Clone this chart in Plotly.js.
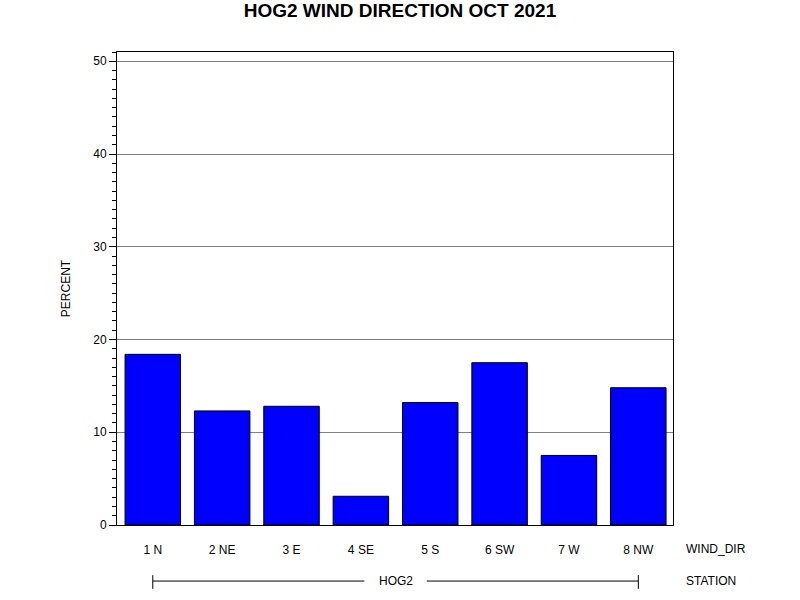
<!DOCTYPE html>
<html>
<head>
<meta charset="utf-8">
<script src="https://cdn.plot.ly/plotly-3.0.1.min.js"></script>
<style>html,body{margin:0;padding:0;background:#fff}#chart{width:800px;height:600px}</style>
</head>
<body>
<div id="chart"></div>
<script>
const categories = ["1 N", "2 NE", "3 E", "4 SE", "5 S", "6 SW", "7 W", "8 NW"];
const percent = [18.4, 12.3, 12.8, 3.1, 13.2, 17.5, 7.5, 14.8];
const yTicks = [0, 10, 20, 30, 40, 50];
const stationName = "HOG2";

const font = "Liberation Sans, Arial, sans-serif";
const trace = {
  type: "bar",
  x: categories.map((c, i) => i),
  y: percent,
  width: 0.80,
  marker: {color: "#0000ff", line: {color: "#000000", width: 1}},
  hoverinfo: "y"
};

const layout = {
  width: 800, height: 600,
  margin: {l: 117, r: 127, t: 52, b: 75},
  paper_bgcolor: "#ffffff", plot_bgcolor: "#ffffff",
  font: {family: font, size: 12, color: "#000"},
  showlegend: false,
  title: {text: "<b>HOG2 WIND DIRECTION OCT 2021</b>", font: {family: font, size: 19, color: "#000"}, x: 0.5, xanchor: "center", y: 0.982, yanchor: "middle"},
  xaxis: {
    range: [-0.516, 7.5], tickvals: categories.map((c, i) => i), ticktext: categories,
    ticks: "", showgrid: false, zeroline: false, showline: true, mirror: true,
    linecolor: "#000", linewidth: 1, ticklabelstandoff: 14, fixedrange: true,
    tickfont: {family: font, size: 12, color: "#000"}
  },
  yaxis: {
    range: [0, 51], tickvals: yTicks, ticks: "outside", ticklen: 7, tickcolor: "#000", tickwidth: 1,
    showgrid: true, gridcolor: "#808080", gridwidth: 1, zeroline: false,
    showline: true, mirror: true, linecolor: "#000", linewidth: 1,
    minor: {dtick: 1, ticks: "outside", ticklen: 4, tickcolor: "#000", showgrid: false},
    title: {text: "PERCENT", font: {family: font, size: 12, color: "#000"}, standoff: 20},
    tickfont: {family: font, size: 12, color: "#000"}, fixedrange: true
  },
  shapes: [
    {type: "line", xref: "x", yref: "paper", x0: 0, x1: 3.05, y0: -0.1185, y1: -0.1185, line: {color: "#000", width: 1}},
    {type: "line", xref: "x", yref: "paper", x0: 3.95, x1: 7, y0: -0.1185, y1: -0.1185, line: {color: "#000", width: 1}},
    {type: "line", xref: "x", yref: "paper", x0: 0, x1: 0, y0: -0.106, y1: -0.135, line: {color: "#000", width: 1}},
    {type: "line", xref: "x", yref: "paper", x0: 7, x1: 7, y0: -0.106, y1: -0.135, line: {color: "#000", width: 1}}
  ],
  annotations: [
    {text: stationName, xref: "x", yref: "paper", x: 3.5, y: -0.1185, showarrow: false, xanchor: "center", yanchor: "middle", font: {family: font, size: 12, color: "#000"}},
    {text: "WIND_DIR", xref: "paper", yref: "paper", x: 1.02, y: -0.0505, showarrow: false, xanchor: "left", yanchor: "middle", font: {family: font, size: 12, color: "#000"}},
    {text: "STATION", xref: "paper", yref: "paper", x: 1.02, y: -0.1185, showarrow: false, xanchor: "left", yanchor: "middle", font: {family: font, size: 12, color: "#000"}}
  ]
};

Plotly.newPlot("chart", [trace], layout, {displayModeBar: false, staticPlot: true});
</script>
</body>
</html>
